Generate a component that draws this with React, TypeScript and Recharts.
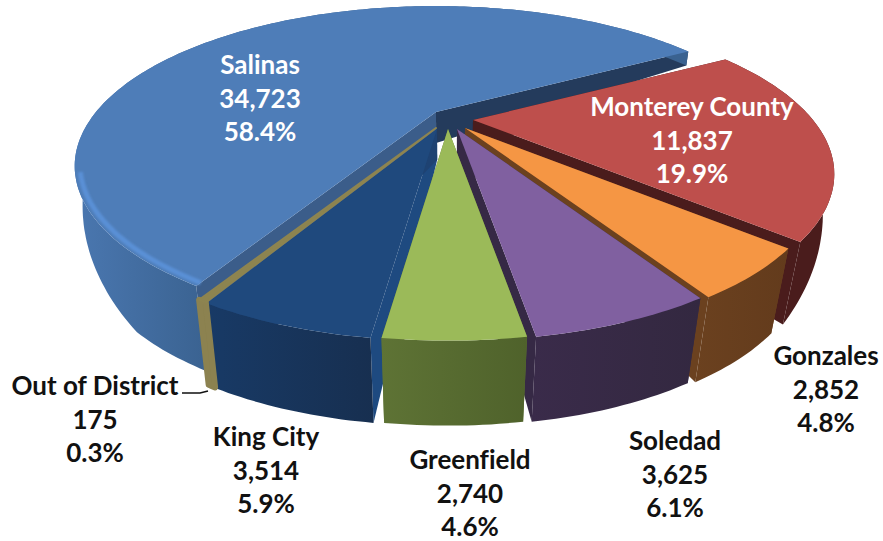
import React from "react";
import { PieChart, Pie } from "recharts";

const categories = ["Salinas", "Monterey County", "Gonzales", "Soledad", "Greenfield", "King City", "Out of District"];
const enrolled = [34723, 11837, 2852, 3625, 2740, 3514, 175];

const topColors = ["#4E7DB8", "#BE4F4C", "#F59644", "#8060A0", "#9BBA59", "#1F497D", "#8D8450"];
const wallLeft = ["#4A77B0", "#4A1C1C", "#6B411F", "#3A2B4A", "#5E7335", "#183A66", "#8C8250"];
const wallRight = ["#3A6290", "#4A1C1C", "#633B1C", "#332840", "#4F622B", "#172F50", "#857B48"];
const cutColors = ["#3B5D8A", "#4A1C1C", "#6B411F", "#362945", "#5E7335", "#1E4A80", "#8C8250"];
const farCutColors = ["#243B5C", "#4A1C1C", "#6B411F", "#362945", "#5E7335", "#1E4272", "#8C8250"];
const rimColors = ["#5A90D6", "#9A3F3D", "#D98A3C", "#6B5088", "#A9CA66", "#2F6199", "#A39962"];

const data = categories.map((name, i) => ({ name, value: enrolled[i] }));
const total = enrolled.reduce((a, b) => a + b, 0);

// these go under the others, the right side overlaps them
const backSlices = ["Salinas", "King City", "Out of District"];

// where each exploded slice has its tip, relative to the pie centre
const explode: Record<string, [number, number]> = {
  Salinas: [4, 2],
  "Monterey County": [41, 10],
  Gonzales: [33, 18],
  Soledad: [25, 19],
  Greenfield: [16, 19],
  "King City": [5, 19],
  "Out of District": [4, 18],
};

// the two big slices sit a little wider than the rest
const reach: Record<string, number> = { Salinas: 1.012, "Monterey County": 1.012 };

// label centre and first line baseline
const labelPos: Record<string, [number, number]> = {
  Salinas: [260, 74],
  "Monterey County": [692, 116],
  Gonzales: [826, 365],
  Soledad: [675, 450],
  Greenfield: [470, 469],
  "King City": [266, 446],
  "Out of District": [95, 395],
};

const PERSP = 0.338;
const RY_RATIO = 0.417;

// fake 3d: tilted disc in perspective, the thickness grows toward the viewer
const project = (cx: number, cy: number, r: number, theta: number, radius = 1) => {
  const rad = (theta * Math.PI) / 180;
  const u = Math.sin(rad) * radius;
  const v = -Math.cos(rad) * radius;
  const w = 1 - PERSP * v;
  return { x: cx + (r * u) / w, y: cy + (r * RY_RATIO * v) / w };
};

const thickness = (y: number) => Math.min(85, Math.max(14, 22 + 0.46 * (y - 110)));

const lower = (p: { x: number; y: number }) => {
  const d = thickness(p.y);
  const shrink = p.x < 450 ? 0.00045 : 0.0006;
  return { x: 450 + (p.x - 450) * (1 - d * shrink), y: p.y + d };
};

const toPath = (pts: { x: number; y: number }[], close = true) =>
  pts.map((p, i) => `${i ? "L" : "M"}${p.x.toFixed(1)} ${p.y.toFixed(1)}`).join(" ") + (close ? " Z" : "");

const Slice3D = (props: any, layer: "back" | "front") => {
  const { cx, cy, outerRadius, startAngle, endAngle, name } = props;
  const isBack = backSlices.includes(name);
  if (isBack !== (layer === "back")) return <g />;
  const i = categories.indexOf(name);
  const [dx, dy] = explode[name];
  const ax = cx + dx;
  const ay = cy + dy;
  const r = outerRadius * (reach[name] ?? 1);
  const t1 = 90 - startAngle;
  const t2 = 90 - endAngle;
  const thin = name === "Out of District";

  const arc: { x: number; y: number }[] = [];
  const steps = Math.max(2, Math.ceil(t2 - t1));
  for (let s = 0; s <= steps; s++) {
    arc.push(project(ax, ay, r, t1 + ((t2 - t1) * s) / steps));
  }
  const apex = { x: ax, y: ay };
  const apexLow = lower(apex);
  const first = arc[0];
  const last = arc[arc.length - 1];
  // the back wall of Salinas closes the gap behind the slice tips
  const farLow = name === "Salinas" ? { x: apexLow.x, y: apexLow.y + 8 } : apexLow;

  const rimArc: { x: number; y: number }[] = [];
  const r1 = Math.max(t1, 85);
  const r2 = Math.min(t2, 248);
  for (let t = r1; t <= r2; t += 1) {
    rimArc.push(project(ax, ay, r, t, 0.987));
  }

  return (
    <g>
      {!thin && <path d={toPath([apex, first, lower(first), apexLow])} fill={cutColors[i]} />}
      {!thin && <path d={toPath([apex, last, lower(last), farLow])} fill={farCutColors[i]} />}
      <path
        d={toPath([...arc, ...arc.map(lower).reverse()])}
        fill={`url(#wall${i})`}
        stroke={thin ? wallLeft[i] : "none"}
        strokeWidth={thin ? 6 : 0}
        strokeLinejoin="round"
      />
      <path
        d={toPath([apex, ...arc])}
        fill={topColors[i]}
        stroke={thin ? topColors[i] : "none"}
        strokeWidth={thin ? 2 : 0}
        strokeLinejoin="round"
      />
      {!thin && rimArc.length > 1 && (
        <path
          d={toPath(rimArc, false)}
          fill="none"
          stroke={rimColors[i]}
          strokeWidth={i === 0 ? 5 : 4}
          filter="url(#soft)"
        />
      )}
    </g>
  );
};

const renderLabel = (props: any) => {
  const { name, value } = props;
  const [x, y] = labelPos[name];
  const inside = name === "Salinas" || name === "Monterey County";
  const lines = [name, value.toLocaleString("en-US"), `${((value / total) * 100).toFixed(1)}%`];
  return (
    <g>
      {name === "Out of District" && <path d="M182 393 L200 393 L208 391" fill="none" stroke="#111" strokeWidth={1.5} />}
      <text
        x={x}
        y={y}
        textAnchor="middle"
        fontFamily="Lato"
        fontWeight={700}
        fontSize={26}
        fill={inside ? "#FFFFFF" : "#111111"}
        style={{ fontVariantLigatures: "none" }}
      >
        {lines.map((line, k) => (
          <tspan key={k} x={x} y={y + k * 33.7}>
            {line}
          </tspan>
        ))}
      </text>
    </g>
  );
};

const pieProps = {
  data,
  dataKey: "value",
  nameKey: "name",
  cx: 432,
  cy: 110,
  innerRadius: 0,
  outerRadius: 336,
  startAngle: -119.9,
  endAngle: -479.9,
  stroke: "none",
  labelLine: false,
  isAnimationActive: false,
};

export default function App() {
  return (
    <div style={{ position: "absolute", left: 0, top: 0, width: 883, height: 541, background: "#fff" }}>
      <PieChart width={883} height={541} margin={{ top: 0, right: 0, bottom: 0, left: 0 }}>
        <defs>
          <filter id="soft" x="-5%" y="-5%" width="110%" height="110%">
            <feGaussianBlur stdDeviation="1.3" />
          </filter>
          {categories.map((c, i) => (
            <linearGradient key={c} id={`wall${i}`} x1="0" y1="0" x2="1" y2="0">
              <stop offset="0" stopColor={wallLeft[i]} />
              <stop offset={i === 0 ? 0.22 : 1} stopColor={wallRight[i]} />
            </linearGradient>
          ))}
        </defs>
        <Pie {...pieProps} shape={(p: any) => Slice3D(p, "back")} />
        <Pie {...pieProps} shape={(p: any) => Slice3D(p, "front")} label={renderLabel} />
      </PieChart>
    </div>
  );
}
